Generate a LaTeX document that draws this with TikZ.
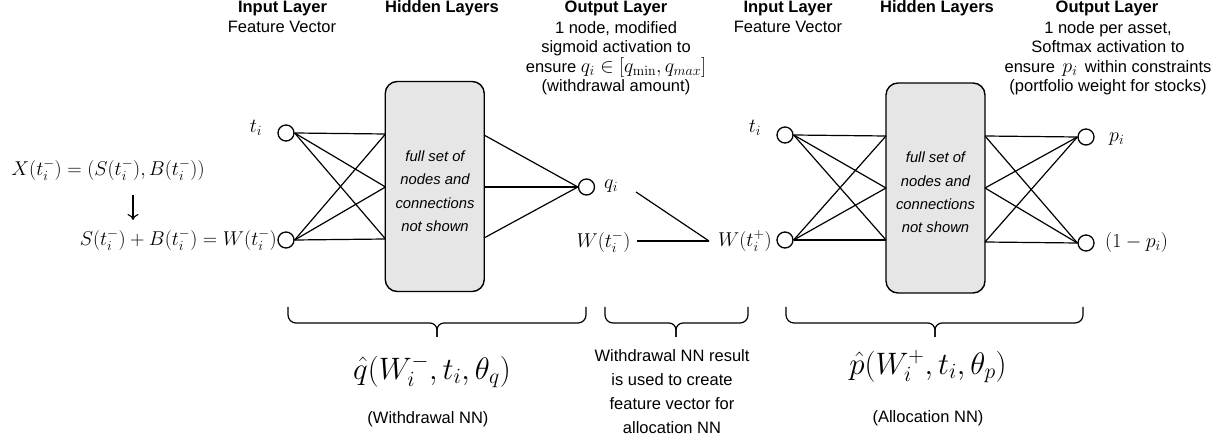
\documentclass[tikz,border=0pt]{standalone}
\usepackage{fix-cm}
\usepackage[no-math]{fontspec}
\setmainfont{Liberation Sans}
\usetikzlibrary{arrows.meta}
\definecolor{boxgray}{HTML}{E6E6E6}
\newcommand{\mfont}{\fontsize{20}{24}\selectfont}
\newcommand{\nnbrace}[3]{%
  \draw[brace] (#1,307) -- (#1,315) arc[start angle=180,end angle=90,radius=8] -- ({#3-7},323) arc[start angle=270,end angle=360,radius=7] -- (#3,337);
  \draw[brace] (#2,307) -- (#2,315) arc[start angle=0,end angle=90,radius=8] -- ({#3+7},323) arc[start angle=270,end angle=180,radius=7] -- (#3,337);}
\begin{document}
\begin{tikzpicture}[x=1pt,y=-1pt,
  neuron/.style={circle,draw,line width=1.3pt,minimum size=16pt,inner sep=0pt},
  hbox/.style={draw,line width=1.4pt,rounded corners=12pt,fill=boxgray,minimum width=99pt,minimum height=210pt,inner sep=0pt},
  conn/.style={line width=1.2pt},
  brace/.style={line width=1.2pt},
  txt/.style={font=\fontsize{16.5}{19.5}\selectfont,align=center,inner sep=0pt},
  hdr/.style={font=\fontsize{16.5}{19.5}\selectfont\bfseries,inner sep=0pt},
  mth/.style={font=\mfont,inner sep=0pt},
  big/.style={font=\fontsize{31}{36}\selectfont,inner sep=0pt},
  boxtxt/.style={font=\fontsize{14.8}{23.3}\selectfont\itshape,align=center,inner sep=0pt}]
\useasboundingbox (0,0) rectangle (1231,443);

% headers
\node[hdr,anchor=base] (hInA) at (282.5,13) {Input Layer};
\node[txt,anchor=base] (fInA) at (282,33) {Feature Vector};
\node[hdr,anchor=base] (hHidA) at (442,13) {Hidden Layers};
\node[hdr,anchor=base] (hOutA) at (616,13) {Output Layer};
\node[txt,anchor=north] (dOutA) at (616,21) {1 node, modified\\sigmoid activation to\\ensure {\mfont$q_i\in[q_{\min},q_{max}]$}\\(withdrawal amount)};
\node[hdr,anchor=base] (hInB) at (788,13) {Input Layer};
\node[txt,anchor=base] (fInB) at (788,33) {Feature Vector};
\node[hdr,anchor=base] (hHidB) at (937,13) {Hidden Layers};
\node[hdr,anchor=base] (hOutB) at (1107,13) {Output Layer};
\node[txt,anchor=north] (dOutB) at (1108,21) {1 node per asset,\\Softmax activation to\\ensure\hspace{0.45em}{\mfont$p_i$}\hspace{0.45em}within constraints\\(portfolio weight for stocks)};

% left network
\node[neuron] (inA1) at (286,133) {};
\node[neuron] (inA2) at (286,240) {};
\node[hbox] (hA) at (434.75,186.5) {};
\node[boxtxt,anchor=north] (hAt) at (435,150.5) {full set of\\nodes and\\connections\\not shown};
\node[neuron] (qA) at (586.5,187) {};
\coordinate (aL1) at (385.5,134);
\coordinate (aL2) at (385.5,187);
\coordinate (aL3) at (385.5,239);
\coordinate (aR1) at (484,135);
\coordinate (aR2) at (484,187);
\coordinate (aR3) at (484,238);
\foreach \i in {inA1,inA2}{\foreach \j in {aL1,aL2,aL3}{\draw[conn] (\i.east) -- (\j);}}
\foreach \j in {aR1,aR2,aR3}{\draw[conn] (\j) -- (qA.west);}

\node[mth] (tA) at (256,128) {$t_i$};
\node[mth] (xA) at (108,170) {$X(t_i^-)=(S(t_i^-),B(t_i^-))$};
\node[mth,anchor=east] (sbw) at (277,240) {$S(t_i^-)+B(t_i^-)=W(t_i^-)$};
\coordinate (arT) at (133,195);
\coordinate (arB) at (133,220);
\draw[line width=1.1pt,-{To[length=6pt,width=11pt]}] (arT) -- (arB);
\node[mth,anchor=west] (qAlab) at (604,186) {$q_i$};

% middle
\node[mth] (Wm) at (603.5,242) {$W(t_i^-)$};
\node[mth] (Wp) at (745,241) {$W(t_i^+)$};
\coordinate (mS) at (636,192);
\coordinate (mM) at (637,241);
\coordinate (mJ) at (709,241);
\draw[conn] (mS) -- (mJ);
\draw[conn] (mM) -- (mJ);

% right network
\node[neuron] (inB1) at (785,135) {};
\node[neuron] (inB2) at (785,240) {};
\node[hbox] (hB) at (935.5,188) {};
\node[boxtxt,anchor=north] (hBt) at (935.5,152) {full set of\\nodes and\\connections\\not shown};
\node[neuron] (outB1) at (1086,137) {};
\node[neuron] (outB2) at (1086,243) {};
\coordinate (bL1) at (886,136);
\coordinate (bL2) at (886,188);
\coordinate (bL3) at (886,240);
\coordinate (bR1) at (985,136);
\coordinate (bR2) at (985,188);
\coordinate (bR3) at (985,242);
\foreach \i in {inB1,inB2}{\foreach \j in {bL1,bL2,bL3}{\draw[conn] (\i.east) -- (\j);}}
\foreach \o in {outB1,outB2}{\foreach \j in {bR1,bR2,bR3}{\draw[conn] (\j) -- (\o.west);}}
\node[mth] (tB) at (755,128) {$t_i$};
\node[mth,anchor=west] (pB) at (1109,139) {$p_i$};
\node[mth,anchor=west] (qB) at (1105,243) {$(1-p_i)$};

% braces and captions
\nnbrace{288}{586}{437}
\nnbrace{605}{748}{676}
\nnbrace{786}{1083}{935}
\node[big,anchor=base] (fq) at (432,379) {$\hat{q}(W_i^-,t_i,\theta_q)$};
\node[txt,anchor=base] (cq) at (428,423) {(Withdrawal NN)};
\node[txt,anchor=north,font=\fontsize{16.5}{24}\selectfont] (cm) at (672,349) {Withdrawal NN result\\is used to create\\feature vector for\\allocation NN};
\node[big,anchor=base] (fp) at (928,374) {$\hat{p}(W_i^+,t_i,\theta_p)$};
\node[txt,anchor=base] (cp) at (928,422) {(Allocation NN)};
\end{tikzpicture}
\end{document}
